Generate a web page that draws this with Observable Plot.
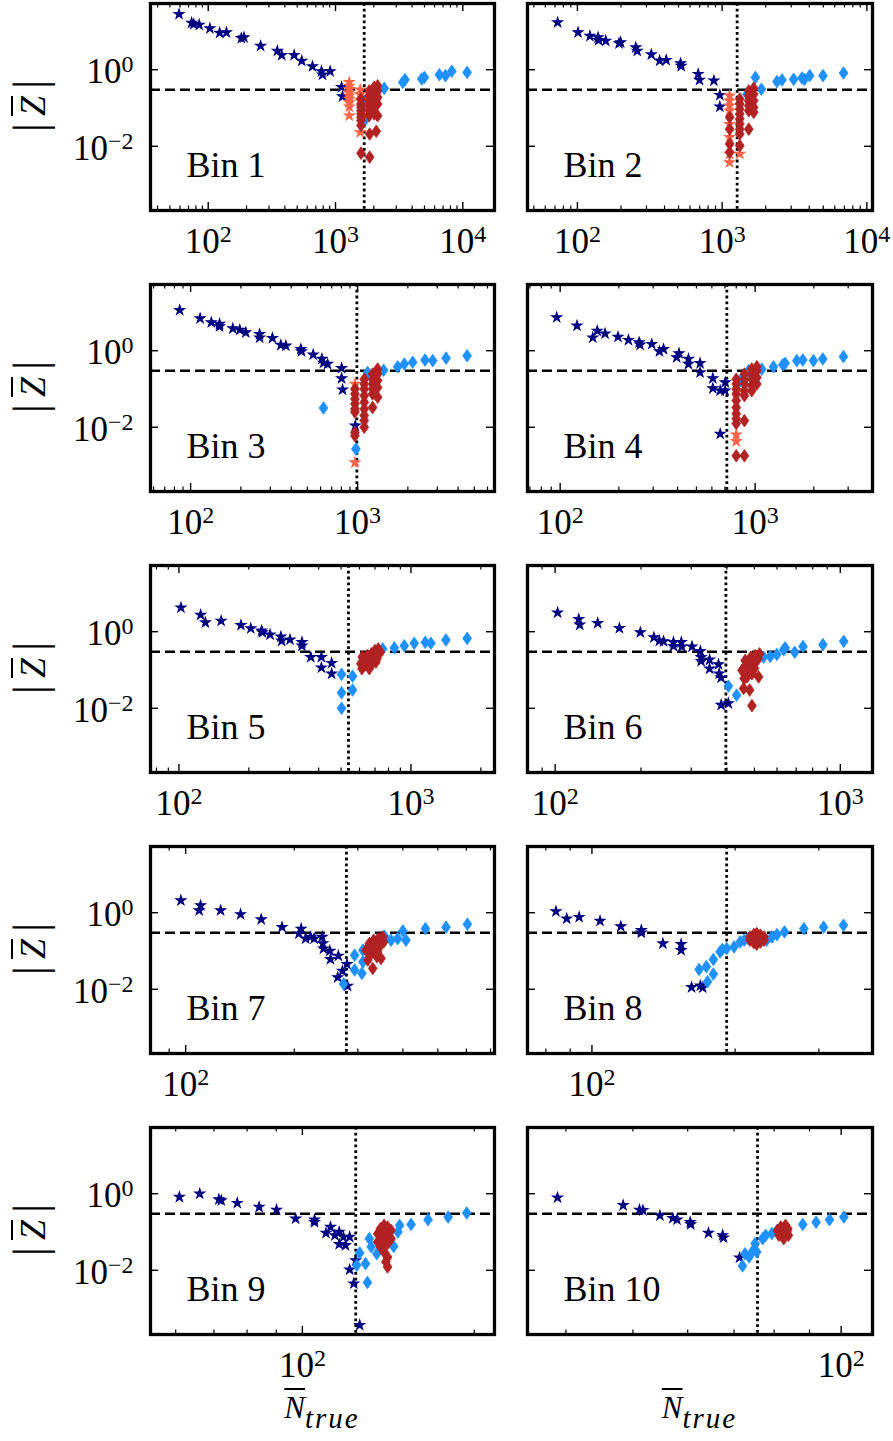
<!DOCTYPE html>
<html><head><meta charset="utf-8">
<script src="https://cdn.jsdelivr.net/npm/d3@7"></script>
<script src="https://cdn.jsdelivr.net/npm/@observablehq/plot@0.6"></script>
<style>
html,body{margin:0;padding:0;background:#fff;}
#root{position:relative;width:893px;height:1441px;overflow:hidden;background:#fff;font-family:"Liberation Serif","DejaVu Serif","Noto Serif","FreeSerif","Tinos","Times",serif;color:#000;}
.ylab{position:absolute;transform:translate(-50%,-50%) rotate(-90deg);white-space:nowrap;line-height:1;font-size:36px;}
.ylab .bar{font-size:46px;}
.ylab .z{font-style:italic;text-decoration:overline;text-decoration-thickness:2px;margin:0 7px;}
.xlab{position:absolute;transform:translateX(-50%);white-space:nowrap;line-height:1;font-size:31px;}
.xlab .n{font-style:italic;text-decoration:overline;text-decoration-thickness:2px;}
.xlab .sub{font-style:italic;font-size:29px;letter-spacing:2px;position:relative;top:10px;}
</style></head>
<body><div id="root"></div>
<script>
// ---------- data ----------
const binLabels = ["Bin 1","Bin 2","Bin 3","Bin 4","Bin 5","Bin 6","Bin 7","Bin 8","Bin 9","Bin 10"];
const nCrit = [1680, 1270, 990, 716, 538, 397, 279, 192, 124, 75.7];
const zCrit = 0.3;
const xDomains = [[35.2,17740],[45.2,10940],[57.5,6607],[68,3999],[75.4,2291],[80,1297],[79.9,718],[73.2,389],[54.2,217],[35.2,111]];
const yDomain = [2.1e-4, 53.7];
const xMajorTicks = [[100,1000,10000],[100,1000,10000],[100,1000],[100,1000],[100,1000],[100,1000],[100],[100],[100],[100]];
const xTickLabels = {100: "10^2", 1000: "10^3", 10000: "10^4"};
const yMajorTicks = [1, 0.01];
const yTickLabels = ["10^0", "10^\u22122"];

// Bin 1
const starsNavy1 = [[59,28.3],[74,16.8],[77,15.5],[85,14.9],[103,12.0],[123,9.2],[139,9.4],[182,6.7],[191,7.0],[258,4.2],[349,3.1],[378,2.4],[473,2.4],[543,1.7],[659,1.22],[776,0.91],[790,0.74],[908,0.91],[1115,0.35],[1135,0.20]];
const diamondsBlue1 = [[1734,0.155],[1734,0.052],[2415,0.326],[3374,0.47],[3518,0.55],[4758,0.57],[4990,0.63],[6548,0.74],[7305,0.70],[8190,0.91],[10810,0.85]];
const starsSalmon1 = [[1282,0.47],[1282,0.38],[1282,0.31],[1282,0.256],[1282,0.21],[1282,0.172],[1282,0.141],[1282,0.108],[1282,0.063],[1563,0.30],[1563,0.23],[1563,0.155],[1563,0.023]];
const diamondsRed1 = [[1585,0.172],[1585,0.127],[1585,0.104],[1585,0.085],[1585,0.070],[1585,0.057],[1585,0.047],[1585,0.035],[1585,0.0066],[1841,0.28],[1841,0.21],[1841,0.155],[1841,0.115],[1841,0.085],[1841,0.063],[2014,0.35],[2014,0.256],[2014,0.19],[2014,0.141],[2014,0.104],[2014,0.07],[2142,0.38],[2142,0.28],[2142,0.19],[2142,0.127],[2142,0.063],[1855,0.021],[2090,0.0246],[1855,0.0052]];
// Bin 2
const starsNavy2 = [[73,17.2],[101,9.4],[122,7.6],[139,7.0],[140,5.9],[157,5.7],[194,4.9],[199,5.2],[253,3.8],[259,3.1],[324,2.5],[370,1.72],[411,1.79],[516,1.46],[521,1.25],[683,0.77],[698,0.54],[877,0.52],[964,0.218],[964,0.108]];
const diamondsBlue2 = [[1698,0.63],[1867,0.31],[1486,0.23],[2393,0.49],[2593,0.54],[3120,0.56],[3563,0.61],[3697,0.56],[4027,0.70],[4977,0.70],[6904,0.82]];
const starsSalmon2 = [[1125,0.21],[1125,0.155],[1125,0.115],[1125,0.085],[1125,0.038],[1125,0.0172],[1125,0.0063],[1125,0.0038],[1324,0.0063]];
const diamondsRed2 = [[1127,0.057],[1127,0.028],[1127,0.0115],[1127,0.0070],[1324,0.172],[1324,0.127],[1324,0.094],[1324,0.07],[1324,0.052],[1324,0.038],[1324,0.028],[1324,0.021],[1324,0.0104],[1528,0.28],[1528,0.21],[1528,0.155],[1528,0.115],[1528,0.085],[1528,0.028],[1652,0.33],[1652,0.23],[1652,0.155],[1652,0.104],[1652,0.077]];
// Bin 3
const starsNavy3 = [[86,11.5],[114,7.0],[133,5.5],[149,5.0],[149,4.3],[179,3.8],[197,3.5],[214,3.0],[259,2.7],[259,2.2],[309,2.14],[347,1.41],[372,1.35],[457,1.10],[461,0.96],[542,0.79],[611,0.61],[625,0.48],[661,0.45],[802,0.35],[802,0.19],[813,0.096],[968,0.011]];
const diamondsBlue3 = [[625,0.032],[977,0.0027],[1148,0.27],[1432,0.31],[1738,0.38],[1905,0.45],[2138,0.50],[2535,0.57],[2818,0.55],[3388,0.64],[4529,0.74]];
const starsSalmon3 = [[964,0.135],[964,0.0012]];
const diamondsRed3 = [[964,0.1],[964,0.074],[964,0.055],[964,0.041],[964,0.030],[964,0.025],[964,0.0073],[964,0.006],[1096,0.18],[1096,0.135],[1096,0.1],[1096,0.067],[1096,0.045],[1096,0.030],[1096,0.0203],[1096,0.015],[1096,0.01],[1230,0.246],[1230,0.18],[1230,0.135],[1230,0.1],[1230,0.074],[1230,0.033],[1318,0.333],[1318,0.246],[1318,0.167],[1318,0.11],[1318,0.061]];
// Bin 4
const starsNavy4 = [[96,7.4],[122,4.5],[147,2.2],[155,3.3],[170,2.8],[198,2.3],[224,1.9],[254,1.65],[257,1.43],[295,1.49],[323,0.96],[339,1.10],[396,0.67],[407,0.85],[455,0.61],[455,0.45],[522,0.47],[522,0.27],[607,0.19],[607,0.104],[662,0.091],[702,0.149],[702,0.091],[662,0.0067]];
const diamondsBlue4 = [[838,0.165],[925,0.30],[1082,0.33],[1242,0.38],[1387,0.43],[1425,0.47],[1636,0.55],[1756,0.57],[1991,0.55],[2223,0.61],[2838,0.70]];
const starsSalmon4 = [[800,0.0064],[800,0.0043]];
const diamondsRed4 = [[800,0.18],[800,0.135],[800,0.1],[800,0.074],[800,0.050],[800,0.033],[800,0.0226],[800,0.0167],[800,0.0125],[800,0.0018],[881,0.246],[881,0.18],[881,0.135],[881,0.09],[881,0.067],[881,0.0149],[881,0.0018],[961,0.333],[961,0.246],[961,0.18],[961,0.122],[961,0.09],[1020,0.38],[1020,0.30],[1020,0.20],[1020,0.135]];
// Bin 5
const starsNavy5 = [[102,4.26],[124,2.75],[130,1.74],[152,1.92],[185,1.49],[204,1.22],[227,1.06],[229,0.96],[247,0.84],[275,0.74],[277,0.58],[301,0.62],[339,0.53],[339,0.43],[370,0.217],[411,0.217],[411,0.115],[455,0.152],[455,0.080]];
const diamondsBlue5 = [[502,0.077],[502,0.0254],[502,0.010],[560,0.069],[560,0.030],[755,0.356],[848,0.378],[936,0.43],[1033,0.50],[1153,0.53],[1219,0.50],[1415,0.61],[1746,0.67]];
const starsSalmon5 = [];
const diamondsRed5 = [[608,0.146],[616,0.217],[629,0.178],[640,0.217],[650,0.24],[661,0.108],[661,0.178],[676,0.265],[690,0.217],[699,0.323],[706,0.161],[713,0.196],[723,0.356],[738,0.292],[630,0.132],[680,0.146],[650,0.196],[700,0.24],[720,0.265],[615,0.108]];
// Bin 6
const starsNavy6 = [[102,3.16],[121,2.13],[122,1.52],[141,1.68],[168,1.24],[199,0.96],[222,0.71],[232,0.58],[240,0.56],[260,0.53],[260,0.42],[277,0.53],[278,0.41],[302,0.41],[323,0.31],[325,0.217],[325,0.171],[348,0.185],[348,0.108],[374,0.140],[376,0.080],[382,0.063],[382,0.0122],[405,0.0135]];
const diamondsBlue6 = [[405,0.038],[433,0.022],[458,0.108],[538,0.217],[568,0.226],[599,0.254],[633,0.336],[641,0.378],[692,0.292],[740,0.41],[869,0.46],[1028,0.56]];
const starsSalmon6 = [];
const diamondsRed6 = [[452,0.098],[458,0.033],[464,0.178],[471,0.066],[477,0.12],[481,0.030],[486,0.217],[490,0.080],[497,0.146],[503,0.24],[510,0.178],[517,0.066],[521,0.264],[490,0.0117],[470,0.14],[500,0.11],[515,0.2],[460,0.06]];
// Bin 7
const starsNavy7 = [[97,2.09],[109,1.15],[110,1.55],[125,1.15],[142,0.91],[162,0.67],[185,0.42],[209,0.38],[206,0.285],[215,0.211],[222,0.233],[227,0.211],[239,0.233],[240,0.157],[241,0.116],[251,0.101],[252,0.061],[265,0.075],[272,0.030],[264,0.0205],[280,0.0455],[281,0.0122]];
const diamondsBlue7 = [[274,0.0138],[294,0.078],[294,0.032],[308,0.026],[310,0.105],[310,0.052],[356,0.243],[371,0.191],[387,0.211],[400,0.334],[408,0.191],[462,0.384],[527,0.42],[604,0.50]];
const starsSalmon7 = [];
const diamondsRed7 = [[316,0.105],[320,0.058],[323,0.157],[327,0.086],[330,0.035],[332,0.191],[335,0.116],[339,0.071],[342,0.211],[347,0.142],[348,0.064],[352,0.233],[354,0.173],[325,0.12],[340,0.1],[336,0.15]];
// Bin 8
const starsNavy8 = [[84,1.08],[88.5,0.70],[94,0.77],[104,0.61],[115,0.44],[127,0.35],[127,0.30],[141,0.157],[154,0.150],[154,0.105],[162,0.0113],[169,0.0124],[171,0.011]];
const diamondsBlue8 = [[168,0.033],[174,0.039],[175,0.0158],[180,0.025],[180,0.060],[186,0.095],[188,0.109],[192,0.116],[199,0.128],[205,0.173],[209,0.191],[213,0.211],[233,0.191],[239,0.233],[245,0.268],[254,0.315],[279,0.384],[307,0.42],[338,0.47]];
const starsSalmon8 = [];
const diamondsRed8 = [[215,0.233],[215,0.191],[219,0.27],[219,0.211],[219,0.165],[222,0.285],[222,0.233],[222,0.191],[222,0.15],[226,0.26],[226,0.205],[226,0.17],[230,0.233],[230,0.191]];
// Bin 9
const starsNavy9 = [[60.9,0.82],[66.1,1.0],[71.4,0.71],[72.1,0.67],[76.9,0.57],[84,0.45],[90.1,0.38],[97.3,0.223],[105,0.21],[105,0.18],[110,0.094],[112,0.135],[114,0.082],[116,0.10],[116,0.048],[118,0.074],[119,0.045],[121,0.074],[124,0.018],[121,0.0104],[123,0.0045],[126,0.00037]];
const diamondsBlue9 = [[126,0.0283],[124.5,0.0135],[129,0.0149],[130,0.0048],[131,0.067],[132,0.041],[135,0.027],[136,0.055],[144.5,0.042],[147,0.10],[148,0.149],[155,0.158],[166,0.21],[180,0.246],[194,0.313]];
const starsSalmon9 = [];
const diamondsRed9 = [[135.5,0.09],[135.5,0.055],[137,0.122],[137,0.074],[137,0.041],[139,0.149],[139,0.09],[139,0.055],[139,0.030],[141,0.135],[141,0.082],[141,0.05],[141,0.022],[141,0.0122],[143,0.11],[143,0.067],[140,0.0166]];
// Bin 10
const starsNavy10 = [[38.9,0.79],[48.4,0.50],[51.1,0.38],[51.7,0.37],[54.7,0.27],[57.1,0.23],[57.9,0.21],[60.5,0.18],[60.6,0.158],[64.3,0.094],[67.4,0.082],[67.6,0.071],[71.3,0.0214]];
const diamondsBlue10 = [[72.0,0.013],[72.6,0.027],[73.6,0.0223],[74.6,0.033],[75.1,0.050],[75.5,0.030],[77.0,0.067],[77.8,0.082],[79.4,0.091],[80.8,0.11],[83.7,0.11],[88.0,0.158],[92.0,0.18],[96.2,0.21],[100.9,0.246]];
const starsSalmon10 = [];
const diamondsRed10 = [[80.9,0.11],[81.3,0.082],[81.8,0.135],[81.8,0.09],[82.3,0.11],[82.6,0.067],[83.1,0.149],[83.3,0.10],[83.7,0.122],[83.9,0.082]];

const starsNavy = [starsNavy1,starsNavy2,starsNavy3,starsNavy4,starsNavy5,starsNavy6,starsNavy7,starsNavy8,starsNavy9,starsNavy10];
const diamondsBlue = [diamondsBlue1,diamondsBlue2,diamondsBlue3,diamondsBlue4,diamondsBlue5,diamondsBlue6,diamondsBlue7,diamondsBlue8,diamondsBlue9,diamondsBlue10];
const starsSalmon = [starsSalmon1,starsSalmon2,starsSalmon3,starsSalmon4,starsSalmon5,starsSalmon6,starsSalmon7,starsSalmon8,starsSalmon9,starsSalmon10];
const diamondsRed = [diamondsRed1,diamondsRed2,diamondsRed3,diamondsRed4,diamondsRed5,diamondsRed6,diamondsRed7,diamondsRed8,diamondsRed9,diamondsRed10];

// ---------- drawing ----------
const NS = "http://www.w3.org/2000/svg";
const FONT = "'Liberation Serif', 'DejaVu Serif', 'Noto Serif', 'FreeSerif', 'Tinos', 'Times', serif";
const thinDiamond = {draw(ctx, size) {
  const r = Math.sqrt(size / Math.PI), a = 1.5 * r, b = 1.05 * r;
  ctx.moveTo(0, -a); ctx.lineTo(b, 0); ctx.lineTo(0, a); ctx.lineTo(-b, 0); ctx.closePath();
}};
function minorTicks([lo, hi]) {
  const out = [];
  for (let e = Math.floor(Math.log10(lo)); e <= Math.ceil(Math.log10(hi)); e++)
    for (let m = 2; m <= 9; m++) { const v = m * Math.pow(10, e); if (v >= lo && v <= hi) out.push(v); }
  return out;
}
function superscripts(svg) {
  svg.querySelectorAll("text").forEach(t => {
    const m = t.textContent.match(/^10\^(.+)$/);
    if (!m) return;
    t.textContent = "10";
    const s = document.createElementNS(NS, "tspan");
    s.setAttribute("dy", "-11");
    s.setAttribute("font-size", "24");
    s.textContent = m[1];
    t.appendChild(s);
  });
}

const root = document.getElementById("root");
const px = d => d[0], py = d => d[1];
for (let i = 0; i < 10; i++) {
  const col = i % 2, row = Math.floor(i / 2);
  const W = col ? 383 : 510, H = 281;
  const ml = col ? 17 : 150, mr = col ? 21 : 16, mt = 3, mb = 71;
  const pw = W - ml - mr, ph = H - mt - mb;
  const minors = minorTicks(xDomains[i]);
  const marks = [
    Plot.ruleY([zCrit], {y: d => d, stroke: "black", strokeWidth: 2.4, strokeDasharray: "10,5"}),
    Plot.ruleX([nCrit[i]], {x: d => d, stroke: "black", strokeWidth: 2.8, strokeDasharray: "2.8,3"}),
    Plot.dot(starsNavy[i], {x: px, y: py, symbol: "star", r: 3.1, fill: "navy", stroke: "navy", strokeWidth: 1.1}),
    Plot.dot(diamondsBlue[i], {x: px, y: py, symbol: thinDiamond, r: 4.2, fill: "dodgerblue", stroke: "dodgerblue", strokeWidth: 0.8}),
    Plot.dot(starsSalmon[i], {x: px, y: py, symbol: "star", r: 3.1, fill: "tomato", stroke: "tomato", strokeWidth: 1.1}),
    Plot.dot(diamondsRed[i], {x: px, y: py, symbol: thinDiamond, r: 4.2, fill: "firebrick", stroke: "firebrick", strokeWidth: 0.8}),
    Plot.frame({stroke: "black", strokeWidth: 3.3}),
    Plot.tickX(xMajorTicks[i], {x: d => d, insetTop: ph - 8, strokeWidth: 1.4}),
    Plot.tickX(xMajorTicks[i], {x: d => d, insetBottom: ph - 8, strokeWidth: 1.4}),
    Plot.tickX(minors, {x: d => d, insetTop: ph - 4.5, strokeWidth: 1.2}),
    Plot.tickX(minors, {x: d => d, insetBottom: ph - 4.5, strokeWidth: 1.2}),
    Plot.tickY(yMajorTicks, {y: d => d, insetRight: pw - 8, strokeWidth: 1.4}),
    Plot.tickY(yMajorTicks, {y: d => d, insetLeft: pw - 8, strokeWidth: 1.4}),
    Plot.text(xMajorTicks[i], {x: d => d, frameAnchor: "bottom", dy: 18, lineAnchor: "top", textAnchor: "middle", text: d => xTickLabels[d], fontSize: 35, fontFamily: FONT}),
    Plot.text([binLabels[i]], {frameAnchor: "bottom-left", dx: 36, dy: -33.5, lineAnchor: "bottom", textAnchor: "start", text: d => d, fontSize: 36, fontFamily: FONT})
  ];
  if (!col) marks.push(Plot.text(yMajorTicks, {y: d => d, frameAnchor: "left", dx: -17, dy: 2.5, textAnchor: "end", lineAnchor: "middle", text: (d, j) => yTickLabels[j], fontSize: 35, fontFamily: FONT}));
  const svg = Plot.plot({
    width: W, height: H,
    marginLeft: ml, marginRight: mr, marginTop: mt, marginBottom: mb,
    x: {type: "log", domain: xDomains[i], axis: null},
    y: {type: "log", domain: yDomain, axis: null},
    style: {background: "transparent", overflow: "visible", fontFamily: FONT, color: "black"},
    marks
  });
  superscripts(svg);
  svg.style.position = "absolute";
  svg.style.left = (col ? 510 : 0) + "px";
  svg.style.top = (row * 281) + "px";
  root.appendChild(svg);
}
// axis titles
for (let r = 0; r < 5; r++) {
  const d = document.createElement("div");
  d.className = "ylab";
  d.style.left = "29.5px";
  d.style.top = (r * 281 + 106) + "px";
  d.innerHTML = '<span class="bar">|</span><span class="z">Z</span><span class="bar">|</span>';
  root.appendChild(d);
}
[322, 699.5].forEach(cx => {
  const d = document.createElement("div");
  d.className = "xlab";
  d.style.left = cx + "px";
  d.style.top = "1392px";
  d.innerHTML = '<span class="n">N</span><span class="sub">true</span>';
  root.appendChild(d);
});
</script>
</body></html>
